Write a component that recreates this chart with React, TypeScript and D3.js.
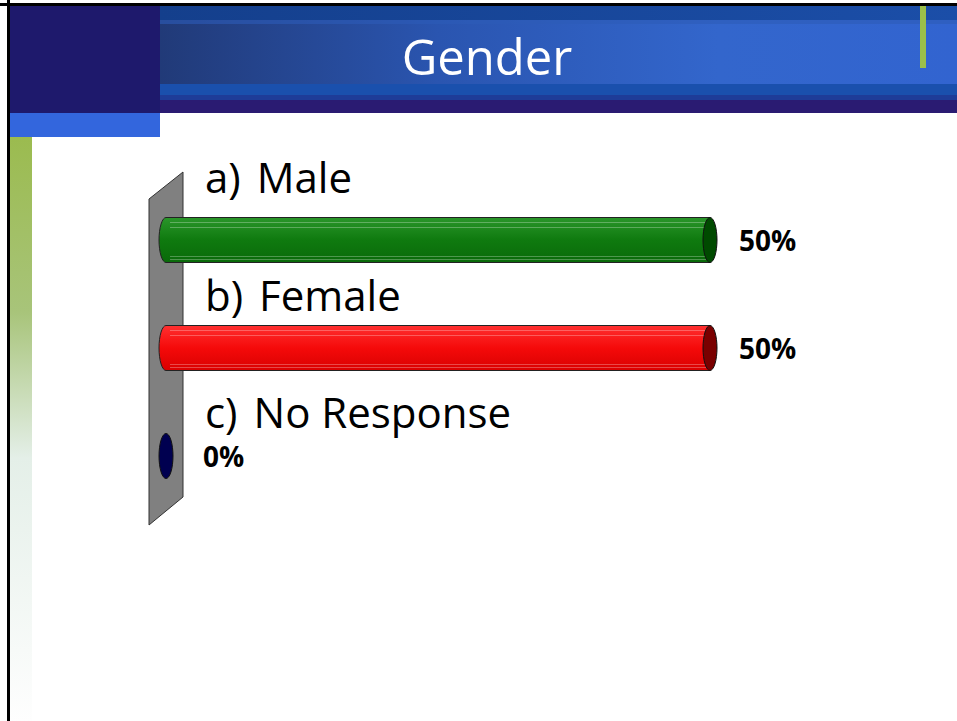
import React from "react";
import * as d3 from "d3";

const categories = ["a) Male", "b) Female", "c) No Response"];
const values = [50, 50, 0];
const valueLabels = ["50%", "50%", "0%"];
const bodyColors = [
  ["#2a962a", "#0f7a0f", "#0a6a0a"],
  ["#ff3030", "#f50a0a", "#d90000"],
  ["#1a1a70", "#000050", "#000040"],
];
const capColors = ["#004a00", "#7a0000", "#000050"];
const title = "Gender";

const W = 957;
const H = 721;

export default function App() {
  const x = d3.scaleLinear().domain([0, 50]).range([166, 710]);
  const y = d3.scalePoint<string>().domain(categories).range([240, 456]);
  const labelY = d3.scalePoint<string>().domain(categories).range([193, 428]);
  const barH = 45;
  const rx = 7;
  const font = "'Open Sans', 'Noto Sans', sans-serif";

  return (
    <svg
      width={W}
      height={H}
      style={{ position: "absolute", left: 0, top: 0, background: "#fff" }}
      fontFamily={font}
    >
      <defs>
        <linearGradient id="hdr" x1="0" x2="1" y1="0" y2="0">
          <stop offset="0" stopColor="#213a78" />
          <stop offset="0.35" stopColor="#2a55b0" />
          <stop offset="0.7" stopColor="#3366cc" />
          <stop offset="1" stopColor="#3264d0" />
        </linearGradient>
        <linearGradient id="hdrTop" x1="0" x2="1" y1="0" y2="0">
          <stop offset="0" stopColor="#143f8c" />
          <stop offset="1" stopColor="#1b4ea8" />
        </linearGradient>
        <linearGradient id="greenStrip" x1="0" x2="0" y1="0" y2="1">
          <stop offset="0" stopColor="#9bbb4f" />
          <stop offset="0.3" stopColor="#a8c47a" />
          <stop offset="0.55" stopColor="#e4efe8" />
          <stop offset="1" stopColor="#fefefe" />
        </linearGradient>
        {bodyColors.map((c, i) => (
          <linearGradient key={i} id={`body${i}`} x1="0" x2="0" y1="0" y2="1">
            <stop offset="0" stopColor={c[0]} />
            <stop offset="0.5" stopColor={c[1]} />
            <stop offset="1" stopColor={c[2]} />
          </linearGradient>
        ))}
      </defs>

      {/* slide frame */}
      <rect x={0} y={0} width={W} height={H} fill="#fff" />
      <rect x={10} y={137} width={22} height={H - 137} fill="url(#greenStrip)" />

      {/* header */}
      <rect x={160} y={6} width={W - 160} height={107} fill="url(#hdr)" />
      <rect x={160} y={6} width={W - 160} height={14} fill="url(#hdrTop)" />
      <rect x={160} y={20} width={W - 160} height={4} fill="#2d5cb8" opacity={0.6} />
      <rect x={160} y={84} width={W - 160} height={11} fill="#1a50ad" />
      <rect x={160} y={95} width={W - 160} height={5} fill="#1e3c98" />
      <rect x={160} y={100} width={W - 160} height={13} fill="#2a1b72" />
      <rect x={10} y={6} width={150} height={107} fill="#1e196c" />
      <rect x={10} y={113} width={150} height={24} fill="#3366dd" />
      <rect x={920} y={6} width={6} height={62} fill="#9bc04a" />
      <text x={487} y={75} textAnchor="middle" fill="#fff" fontSize={49}>
        {title}
      </text>

      {/* borders */}
      <rect x={7} y={0} width={3} height={H} fill="#000" />
      <rect x={0} y={3} width={W} height={3} fill="#000" />

      {/* wall */}
      <polygon
        points="149,199 183,172 183,497 149,525"
        fill="#808080"
        stroke="#333"
        strokeWidth={1}
      />

      {/* bars */}
      {categories.map((c, i) => {
        const cy = y(c)!;
        const x0 = x(0);
        const x1 = x(values[i]);
        const top = cy - barH / 2;
        const bot = cy + barH / 2;
        const hasBody = x1 - x0 > 1;
        const [pre, rest] = [c.slice(0, 2), c.slice(3)];
        return (
          <g key={c}>
            {hasBody && (
              <>
                <path
                  d={`M${x1},${top} L${x0},${top} A${rx},${barH / 2} 0 0 0 ${x0},${bot} L${x1},${bot} Z`}
                  fill={`url(#body${i})`}
                  stroke="#222"
                  strokeWidth={1}
                />
                {[5, 10, 39, 42].map((o) => (
                  <line
                    key={o}
                    x1={x0 + 4}
                    x2={x1}
                    y1={top + o}
                    y2={top + o}
                    stroke="#fff"
                    strokeOpacity={0.28}
                    strokeWidth={1}
                  />
                ))}
              </>
            )}
            <ellipse
              cx={x1}
              cy={cy}
              rx={rx}
              ry={barH / 2}
              fill={capColors[i]}
              stroke="#111"
              strokeWidth={1}
            />
            <text
              x={x1 + (hasBody ? 29 : 37)}
              y={cy + 11}
              fontSize={28}
              fontWeight="bold"
              fill="#000"
            >
              {valueLabels[i]}
            </text>
            <text x={205} y={labelY(c)} fontSize={42} fill="#000">
              <tspan>{pre}</tspan>
              <tspan dx={16}>{rest}</tspan>
            </text>
          </g>
        );
      })}
    </svg>
  );
}
